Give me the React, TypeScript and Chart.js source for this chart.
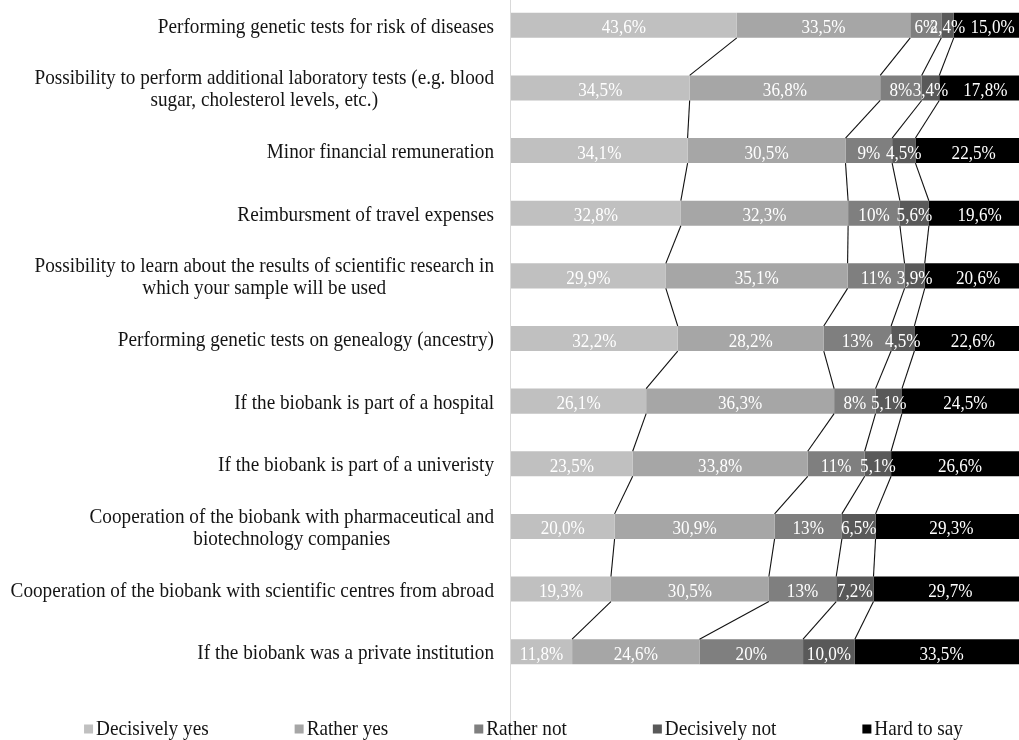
import React, { useEffect, useRef } from "react";
import { Chart, registerables } from "chart.js";

Chart.register(...registerables);

// ---- data ----
const categories: string[][] = [
  ["Performing genetic tests for risk of diseases"],
  ["Possibility to perform additional laboratory tests (e.g. blood", "sugar, cholesterol levels, etc.)"],
  ["Minor financial remuneration"],
  ["Reimbursment of travel expenses"],
  ["Possibility to learn about the results of scientific research in", "which your sample will be used"],
  ["Performing genetic tests on genealogy (ancestry)"],
  ["If the biobank is part of a hospital"],
  ["If the biobank is part of a univeristy"],
  ["Cooperation of the biobank with pharmaceutical and", "biotechnology companies"],
  ["Cooperation of the biobank with scientific centres from abroad"],
  ["If the biobank was a private institution"],
];

const seriesNames = ["Decisively yes", "Rather yes", "Rather not", "Decisively not", "Hard to say"];

const decisivelyYes = [43.6, 34.5, 34.1, 32.8, 29.9, 32.2, 26.1, 23.5, 20.0, 19.3, 11.8];
const ratherYes = [33.5, 36.8, 30.5, 32.3, 35.1, 28.2, 36.3, 33.8, 30.9, 30.5, 24.6];
const ratherNot = [6, 8, 9, 10, 11, 13, 8, 11, 13, 13, 20];
const decisivelyNot = [2.4, 3.4, 4.5, 5.6, 3.9, 4.5, 5.1, 5.1, 6.5, 7.2, 10.0];
const hardToSay = [15.0, 17.8, 22.5, 19.6, 20.6, 22.6, 24.5, 26.6, 29.3, 29.7, 33.5];

const seriesValues = [decisivelyYes, ratherYes, ratherNot, decisivelyNot, hardToSay];
const seriesDecimals = [1, 1, 0, 1, 1];
const seriesColors = ["#c0c0c0", "#a6a6a6", "#7f7f7f", "#595959", "#000000"];

const FONT = '"Liberation Serif", "Times New Roman", serif';
const SQUEEZE = 0.915;
const LABEL_SQUEEZE = 0.9;

function fmt(v: number, d: number) {
  return v.toFixed(d).replace(".", ",") + "%";
}

const axisLinePlugin = {
  id: "axisLineFull",
  beforeDatasetsDraw(chart: any) {
    const { ctx, chartArea } = chart;
    ctx.save();
    ctx.strokeStyle = "#d9d9d9";
    ctx.lineWidth = 1;
    const x = Math.round(chartArea.left) - 0.5;
    ctx.beginPath();
    ctx.moveTo(x, 0);
    ctx.lineTo(x, chart.height);
    ctx.stroke();
    ctx.restore();
  },
};

const seriesLinesPlugin = {
  id: "seriesLines",
  afterDatasetsDraw(chart: any) {
    const { ctx } = chart;
    ctx.save();
    ctx.strokeStyle = "#111111";
    ctx.lineWidth = 1.1;
    for (let s = 0; s < 4; s++) {
      const meta = chart.getDatasetMeta(s);
      for (let i = 0; i < meta.data.length - 1; i++) {
        const a = meta.data[i];
        const b = meta.data[i + 1];
        ctx.beginPath();
        ctx.moveTo(a.x, a.y + a.height / 2);
        ctx.lineTo(b.x, b.y - b.height / 2);
        ctx.stroke();
      }
    }
    ctx.restore();
  },
};

const dataLabelsPlugin = {
  id: "dataLabelsCustom",
  afterDatasetsDraw(chart: any) {
    const { ctx } = chart;
    ctx.save();
    ctx.font = `19px ${FONT}`;
    ctx.fillStyle = "#ffffff";
    ctx.textAlign = "center";
    ctx.textBaseline = "alphabetic";
    seriesValues.forEach((vals, s) => {
      const meta = chart.getDatasetMeta(s);
      meta.data.forEach((bar: any, i: number) => {
        const cx = (bar.x + bar.base) / 2;
        const cy = bar.y + 8;
        ctx.save();
        ctx.translate(cx, cy);
        ctx.scale(LABEL_SQUEEZE, 1);
        ctx.fillText(fmt(vals[i], seriesDecimals[s]), 0, 0);
        ctx.restore();
      });
    });
    ctx.restore();
  },
};

const yLabelsPlugin = {
  id: "yLabelsCustom",
  afterDraw(chart: any) {
    const { ctx, chartArea } = chart;
    const yScale = chart.scales.y;
    const LH = 22;
    ctx.save();
    ctx.font = `21px ${FONT}`;
    ctx.fillStyle = "#141414";
    ctx.textAlign = "center";
    ctx.textBaseline = "alphabetic";
    categories.forEach((lines, i) => {
      const cy = yScale.getPixelForValue(i);
      const widths = lines.map((l) => ctx.measureText(l).width * SQUEEZE);
      const block = Math.max(...widths);
      const right = chartArea.left - 17;
      const cx = right - block / 2;
      lines.forEach((l, j) => {
        const by = cy + 7.5 + (j - (lines.length - 1) / 2) * LH;
        ctx.save();
        ctx.translate(cx, by);
        ctx.scale(SQUEEZE, 1);
        ctx.fillText(l, 0, 0);
        ctx.restore();
      });
    });
    ctx.restore();
  },
};

const legendPlugin = {
  id: "legendCustom",
  afterDraw(chart: any) {
    const { ctx } = chart;
    const BOX = 9;
    const GAP_BOX = 3;
    const GAP_ITEM = 86;
    const CENTER_X = 523.5;
    const BASE_Y = chart.height - 5;
    ctx.save();
    ctx.font = `21px ${FONT}`;
    const widths = seriesNames.map((n) => ctx.measureText(n).width * SQUEEZE);
    const total =
      widths.reduce((a, w) => a + BOX + GAP_BOX + w, 0) + GAP_ITEM * (seriesNames.length - 1);
    let x = CENTER_X - total / 2;
    seriesNames.forEach((name, k) => {
      ctx.fillStyle = seriesColors[k];
      ctx.fillRect(x, BASE_Y - 10.5, BOX, BOX);
      ctx.fillStyle = "#141414";
      ctx.textAlign = "left";
      ctx.textBaseline = "alphabetic";
      ctx.save();
      ctx.translate(x + BOX + GAP_BOX, BASE_Y);
      ctx.scale(SQUEEZE, 1);
      ctx.fillText(name, 0, 0);
      ctx.restore();
      x += BOX + GAP_BOX + widths[k] + GAP_ITEM;
    });
    ctx.restore();
  },
};

export default function App() {
  const canvasRef = useRef<HTMLCanvasElement | null>(null);

  useEffect(() => {
    if (!canvasRef.current) return;
    const chart = new Chart(canvasRef.current, {
      type: "bar",
      data: {
        labels: categories.map((c) => c.join(" ")),
        datasets: seriesNames.map((name, s) => ({
          label: name,
          data: seriesValues[s],
          backgroundColor: seriesColors[s],
          borderWidth: 0,
          barPercentage: 0.4,
          categoryPercentage: 1,
        })),
      },
      options: {
        indexAxis: "y",
        responsive: false,
        animation: false,
        layout: { padding: { top: 0, right: 0, bottom: 57, left: 0 } },
        plugins: {
          legend: { display: false },
          tooltip: { enabled: false },
          title: { display: false },
        },
        scales: {
          x: {
            stacked: true,
            display: false,
            min: 0,
            max: 98.1,
          },
          y: {
            stacked: true,
            grid: { display: false },
            border: { display: false },
            ticks: { display: false },
            afterFit(scale: any) {
              scale.width = 511;
            },
          },
        },
      },
      plugins: [axisLinePlugin, seriesLinesPlugin, dataLabelsPlugin, yLabelsPlugin, legendPlugin],
    } as any);
    return () => chart.destroy();
  }, []);

  return (
    <div style={{ position: "fixed", left: 0, top: -6, width: 1019, height: 746, background: "#ffffff" }}>
      <canvas ref={canvasRef} width={1019} height={746} style={{ display: "block" }} />
    </div>
  );
}
